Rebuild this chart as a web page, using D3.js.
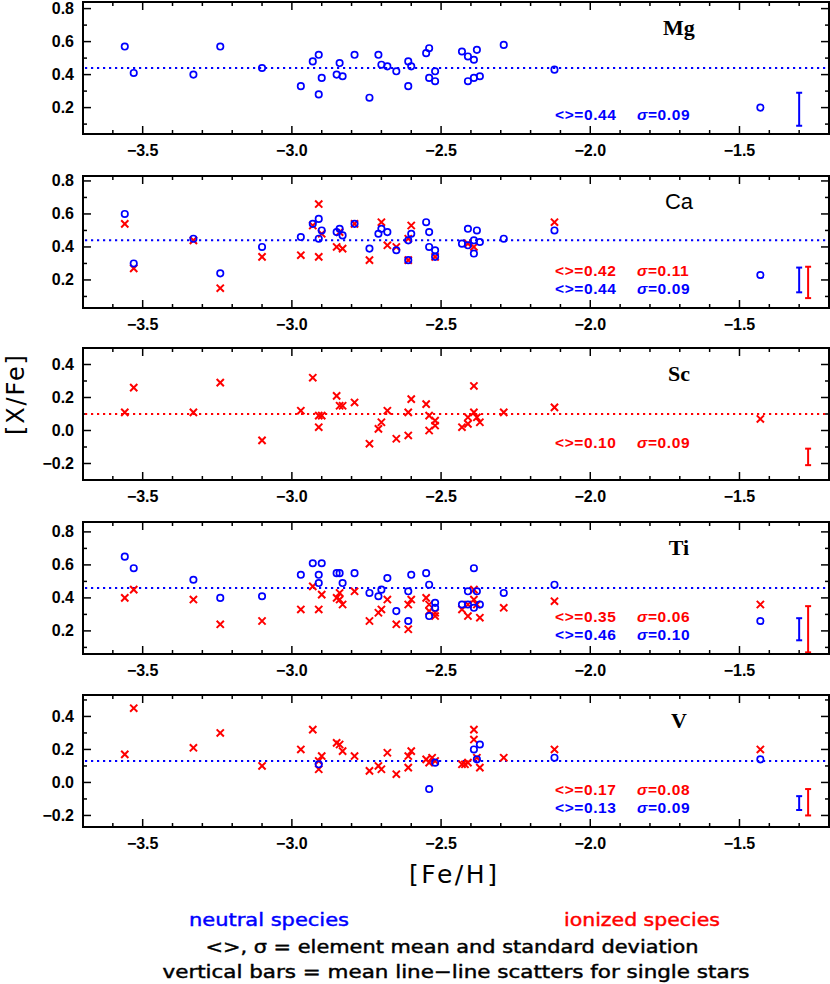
<!DOCTYPE html>
<html>
<head>
<meta charset="utf-8">
<script src="https://cdn.jsdelivr.net/npm/d3@7"></script>
<style>
    body { margin: 0; background: #fff; }
    svg { display: block; }
    .tick-label { font-family: 'Liberation Sans', Arial, sans-serif; font-weight: bold; font-size: 16px; }
    .stat { font-family: 'Liberation Sans', Arial, sans-serif; font-weight: bold; font-size: 15.5px; letter-spacing: 0.6px; }
    .elem { font-family: 'Liberation Serif', serif; font-weight: bold; font-size: 22px; }
    .note { font-family: 'DejaVu Sans', sans-serif; font-size: 18px; stroke-width: 0.45px; }
</style>
</head>
<body>
<div id="chart"></div>
<script>
var WIDTH = 830
var HEIGHT = 984
var BLUE = '#0000ff'
var RED = '#ff0000'

// [Fe/H], [X/Fe]
var mgNeutral = [[-3.56,0.57],[-3.53,0.41],[-3.33,0.40],[-3.24,0.57],[-3.10,0.44],[-2.97,0.33],[-2.93,0.48],[-2.91,0.52],[-2.91,0.28],[-2.90,0.38],[-2.85,0.40],[-2.84,0.47],[-2.83,0.39],[-2.79,0.52],[-2.74,0.26],[-2.71,0.52],[-2.70,0.46],[-2.68,0.45],[-2.65,0.42],[-2.61,0.48],[-2.61,0.33],[-2.60,0.45],[-2.55,0.53],[-2.54,0.56],[-2.54,0.38],[-2.52,0.42],[-2.52,0.36],[-2.43,0.54],[-2.41,0.51],[-2.41,0.36],[-2.39,0.49],[-2.38,0.55],[-2.39,0.38],[-2.37,0.39],[-2.29,0.58],[-2.12,0.43],[-1.43,0.20]]

var caNeutral = [[-3.56,0.60],[-3.53,0.30],[-3.33,0.45],[-3.24,0.24],[-3.10,0.40],[-2.97,0.46],[-2.93,0.54],[-2.91,0.57],[-2.91,0.45],[-2.90,0.50],[-2.85,0.49],[-2.84,0.51],[-2.83,0.47],[-2.79,0.54],[-2.74,0.39],[-2.71,0.48],[-2.70,0.51],[-2.68,0.49],[-2.65,0.38],[-2.61,0.44],[-2.61,0.32],[-2.60,0.48],[-2.55,0.55],[-2.54,0.49],[-2.54,0.40],[-2.52,0.38],[-2.52,0.34],[-2.43,0.42],[-2.41,0.51],[-2.41,0.41],[-2.39,0.44],[-2.39,0.36],[-2.38,0.50],[-2.37,0.43],[-2.29,0.45],[-2.12,0.50],[-1.43,0.23]]
var caIon = [[-3.56,0.54],[-3.53,0.27],[-3.33,0.44],[-3.24,0.15],[-3.10,0.34],[-2.97,0.35],[-2.93,0.53],[-2.91,0.66],[-2.91,0.34],[-2.90,0.48],[-2.85,0.40],[-2.84,0.49],[-2.83,0.39],[-2.79,0.54],[-2.74,0.32],[-2.70,0.55],[-2.68,0.41],[-2.65,0.40],[-2.61,0.45],[-2.61,0.32],[-2.60,0.53],[-2.52,0.34],[-2.41,0.42],[-2.39,0.40],[-2.12,0.55]]

var scIon = [[-3.56,0.11],[-3.53,0.26],[-3.33,0.11],[-3.24,0.29],[-3.10,-0.06],[-2.97,0.12],[-2.93,0.32],[-2.91,0.09],[-2.91,0.02],[-2.90,0.09],[-2.85,0.21],[-2.84,0.15],[-2.83,0.15],[-2.79,0.17],[-2.74,-0.08],[-2.71,0.01],[-2.70,0.05],[-2.68,0.12],[-2.65,-0.05],[-2.61,0.11],[-2.61,-0.03],[-2.60,0.19],[-2.55,0.16],[-2.54,0.09],[-2.54,0.00],[-2.52,0.06],[-2.52,0.03],[-2.43,0.02],[-2.41,0.04],[-2.41,0.08],[-2.39,0.27],[-2.39,0.11],[-2.38,0.08],[-2.37,0.05],[-2.29,0.11],[-2.12,0.14],[-1.43,0.07]]

var tiNeutral = [[-3.56,0.65],[-3.53,0.58],[-3.33,0.51],[-3.24,0.40],[-3.10,0.41],[-2.97,0.54],[-2.93,0.61],[-2.91,0.54],[-2.91,0.49],[-2.90,0.61],[-2.85,0.55],[-2.84,0.55],[-2.83,0.49],[-2.79,0.55],[-2.74,0.43],[-2.71,0.41],[-2.70,0.45],[-2.68,0.52],[-2.65,0.32],[-2.61,0.44],[-2.61,0.26],[-2.60,0.54],[-2.55,0.55],[-2.54,0.48],[-2.54,0.29],[-2.52,0.37],[-2.52,0.34],[-2.43,0.36],[-2.41,0.44],[-2.41,0.36],[-2.39,0.58],[-2.39,0.34],[-2.38,0.44],[-2.37,0.36],[-2.29,0.43],[-2.12,0.48],[-1.43,0.26]]
var tiIon = [[-3.56,0.40],[-3.53,0.45],[-3.33,0.39],[-3.24,0.24],[-3.10,0.26],[-2.97,0.33],[-2.93,0.47],[-2.91,0.33],[-2.90,0.42],[-2.85,0.40],[-2.84,0.43],[-2.84,0.39],[-2.83,0.36],[-2.79,0.44],[-2.74,0.26],[-2.71,0.31],[-2.70,0.33],[-2.68,0.39],[-2.65,0.24],[-2.61,0.36],[-2.61,0.21],[-2.60,0.39],[-2.55,0.40],[-2.54,0.36],[-2.54,0.32],[-2.52,0.31],[-2.52,0.29],[-2.43,0.33],[-2.41,0.36],[-2.41,0.29],[-2.39,0.45],[-2.39,0.39],[-2.38,0.36],[-2.37,0.28],[-2.29,0.34],[-2.12,0.38],[-1.43,0.36]]

var vNeutral = [[-2.91,0.11],[-2.54,-0.04],[-2.52,0.12],[-2.39,0.20],[-2.37,0.23],[-2.38,0.14],[-2.12,0.15],[-1.43,0.14]]
var vIon = [[-3.56,0.17],[-3.53,0.45],[-3.33,0.21],[-3.24,0.30],[-3.10,0.10],[-2.97,0.20],[-2.93,0.32],[-2.91,0.13],[-2.91,0.08],[-2.90,0.16],[-2.85,0.24],[-2.84,0.23],[-2.83,0.19],[-2.79,0.16],[-2.74,0.07],[-2.71,0.10],[-2.70,0.08],[-2.68,0.18],[-2.65,0.05],[-2.61,0.16],[-2.61,0.09],[-2.60,0.19],[-2.55,0.14],[-2.54,0.12],[-2.53,0.15],[-2.52,0.13],[-2.43,0.11],[-2.42,0.11],[-2.41,0.12],[-2.39,0.32],[-2.39,0.26],[-2.38,0.15],[-2.37,0.09],[-2.29,0.15],[-2.12,0.20],[-1.43,0.20]]

var elements = ['Mg', 'Ca', 'Sc', 'Ti', 'V']
var yDomains = [[0.04, 0.84], [0.03, 0.83], [-0.3, 0.5], [0.06, 0.86], [-0.27, 0.53]]
var neutralSets = [mgNeutral, caNeutral, [], tiNeutral, vNeutral]
var ionSets = [[], caIon, scIon, tiIon, vIon]
// mean line: [value, which species]
var meanLines = [[0.44, 'n'], [0.44, 'n'], [0.10, 'i'], [0.46, 'n'], [0.13, 'n']]
// stat rows: [species, mean, sigma]
var stats = [
    [['n', '0.44', '0.09']],
    [['i', '0.42', '0.11'], ['n', '0.44', '0.09']],
    [['i', '0.10', '0.09']],
    [['i', '0.35', '0.06'], ['n', '0.46', '0.10']],
    [['i', '0.17', '0.08'], ['n', '0.13', '0.09']]
]
// line-to-line scatter bars: [species, x, center, half length]
var scatterBars = [
    [['n', -1.30, 0.19, 0.10]],
    [['n', -1.30, 0.20, 0.075], ['i', -1.27, 0.185, 0.095]],
    [['i', -1.27, -0.16, 0.05]],
    [['n', -1.30, 0.21, 0.067], ['i', -1.27, 0.21, 0.14]],
    [['n', -1.30, -0.125, 0.042], ['i', -1.27, -0.12, 0.08]]
]
var xDomain = [-3.7, -1.2]
var xMajor = [-3.5, -3.0, -2.5, -2.0, -1.5]

var panelTops = [2, 176, 348, 522, 695]
var panelHeight = 132
var left = 83
var right = 829

var svg = d3.select('#chart').append('svg')
    .attr('width', WIDTH)
    .attr('height', HEIGHT)

var x = d3.scaleLinear().domain(xDomain).range([left, right])
var fmt = function (v) { return d3.format('.1f')(v).replace('-', '\u2212') }
var color = function (s) { return s === 'n' ? BLUE : RED }

elements.forEach(function (el, i) {
    var top = panelTops[i]
    var bottom = top + panelHeight
    var y = d3.scaleLinear().domain(yDomains[i]).range([bottom, top])
    var g = svg.append('g').attr('class', 'panel')

    // minor / major ticks on all four sides, pointing inward
    var xt = d3.range(-3.6, -1.2, 0.1).map(function (v) { return Math.round(v * 10) / 10 })
    xt.forEach(function (v) {
        var major = Math.abs(v * 2 - Math.round(v * 2)) < 1e-6
        var len = major ? 8 : 4
        g.append('line').attr('x1', x(v)).attr('x2', x(v)).attr('y1', bottom).attr('y2', bottom - len)
            .attr('stroke', '#000').attr('stroke-width', 1.5)
        g.append('line').attr('x1', x(v)).attr('x2', x(v)).attr('y1', top).attr('y2', top + len)
            .attr('stroke', '#000').attr('stroke-width', 1.5)
    })
    var lo = Math.ceil(yDomains[i][0] * 10 - 1e-6)
    var hi = Math.floor(yDomains[i][1] * 10 + 1e-6)
    d3.range(lo, hi + 1).forEach(function (k) {
        var v = k / 10
        var major = k % 2 === 0
        var len = major ? 8 : 4
        g.append('line').attr('x1', left).attr('x2', left + len).attr('y1', y(v)).attr('y2', y(v))
            .attr('stroke', '#000').attr('stroke-width', 1.5)
        g.append('line').attr('x1', right).attr('x2', right - len).attr('y1', y(v)).attr('y2', y(v))
            .attr('stroke', '#000').attr('stroke-width', 1.5)
        if (major) {
            g.append('text').attr('class', 'tick-label')
                .attr('x', left - 9).attr('y', y(v) + 5.5)
                .attr('text-anchor', 'end')
                .text(fmt(v))
        }
    })

    xMajor.forEach(function (v) {
        g.append('text').attr('class', 'tick-label')
            .attr('x', x(v)).attr('y', bottom + 22)
            .attr('text-anchor', 'middle')
            .text(fmt(v))
    })

    // mean line
    g.append('line')
        .attr('x1', left + 2).attr('x2', right - 1)
        .attr('y1', y(meanLines[i][0])).attr('y2', y(meanLines[i][0]))
        .attr('stroke', color(meanLines[i][1]))
        .attr('stroke-width', 2)
        .attr('stroke-dasharray', '2.2,3.8')

    // ionized species: crosses
    var s = 3.6
    g.selectAll('.cross').data(ionSets[i]).enter().append('path')
        .attr('class', 'cross')
        .attr('d', function (d) {
            var cx = x(d[0]), cy = y(d[1])
            return 'M' + (cx - s) + ',' + (cy - s) + 'L' + (cx + s) + ',' + (cy + s) +
                'M' + (cx - s) + ',' + (cy + s) + 'L' + (cx + s) + ',' + (cy - s)
        })
        .attr('stroke', RED).attr('stroke-width', 2).attr('fill', 'none')

    // neutral species: open circles
    g.selectAll('.circ').data(neutralSets[i]).enter().append('circle')
        .attr('class', 'circ')
        .attr('cx', function (d) { return x(d[0]) })
        .attr('cy', function (d) { return y(d[1]) })
        .attr('r', 3.2)
        .attr('stroke', BLUE).attr('stroke-width', 1.7).attr('fill', 'none')

    // scatter bars
    scatterBars[i].forEach(function (b) {
        var bx = x(b[1])
        var y1 = y(b[2] + b[3]), y2 = y(b[2] - b[3])
        var c = color(b[0])
        g.append('line').attr('x1', bx).attr('x2', bx).attr('y1', y1).attr('y2', y2)
            .attr('stroke', c).attr('stroke-width', 2)
        ;[y1, y2].forEach(function (yy) {
            g.append('line').attr('x1', bx - 3).attr('x2', bx + 3).attr('y1', yy).attr('y2', yy)
                .attr('stroke', c).attr('stroke-width', 2)
        })
    })

    // stats text
    stats[i].forEach(function (row) {
        var yy = top + (row[0] === 'i' ? 100 : 118)
        var c = color(row[0])
        g.append('text').attr('class', 'stat').attr('x', 555).attr('y', yy).attr('fill', c)
            .text('<>=' + row[1])
        var t = g.append('text').attr('class', 'stat').attr('x', 637).attr('y', yy).attr('fill', c)
        t.append('tspan').attr('font-style', 'italic').text('\u03c3')
        t.append('tspan').text('=' + row[2])
    })

    // element label
    g.append('text').attr('class', 'elem')
        .attr('x', 679).attr('y', top + 33)
        .attr('text-anchor', 'middle')
        .style('font-family', el === 'Ca' ? "'Liberation Sans', Arial, sans-serif" : null)
        .style('font-weight', el === 'Ca' ? 'normal' : null)
        .text(el)

    // frame
    g.append('rect')
        .attr('x', left).attr('y', top)
        .attr('width', right - left).attr('height', panelHeight)
        .attr('fill', 'none').attr('stroke', '#000').attr('stroke-width', 2)
})

// axis titles
svg.append('text')
    .attr('transform', 'translate(24,395) rotate(-90)')
    .attr('text-anchor', 'middle')
    .attr('font-family', 'DejaVu Sans, sans-serif')
    .attr('font-size', 24)
    .attr('textLength', 80)
    .text('[X/Fe]')

svg.append('text')
    .attr('x', 453).attr('y', 883)
    .attr('text-anchor', 'middle')
    .attr('font-family', 'DejaVu Sans, sans-serif')
    .attr('font-size', 25)
    .attr('textLength', 88)
    .text('[Fe/H]')

// notes under the chart
var notes = [
    { text: 'neutral species', x: 269, y: 926, w: 160, fill: BLUE },
    { text: 'ionized species', x: 642, y: 926, w: 156, fill: RED },
    { text: '<>, \u03c3 = element mean and standard deviation', x: 452, y: 953, w: 493, fill: '#000' },
    { text: 'vertical bars = mean line\u2212line scatters for single stars', x: 456, y: 978, w: 587, fill: '#000' }
]
svg.selectAll('.note').data(notes).enter().append('text')
    .attr('class', 'note')
    .attr('x', function (d) { return d.x })
    .attr('y', function (d) { return d.y })
    .attr('text-anchor', 'middle')
    .attr('textLength', function (d) { return d.w })
    .attr('lengthAdjust', 'spacingAndGlyphs')
    .attr('fill', function (d) { return d.fill })
    .attr('stroke', function (d) { return d.fill })
    .text(function (d) { return d.text })
</script>
</body>
</html>
